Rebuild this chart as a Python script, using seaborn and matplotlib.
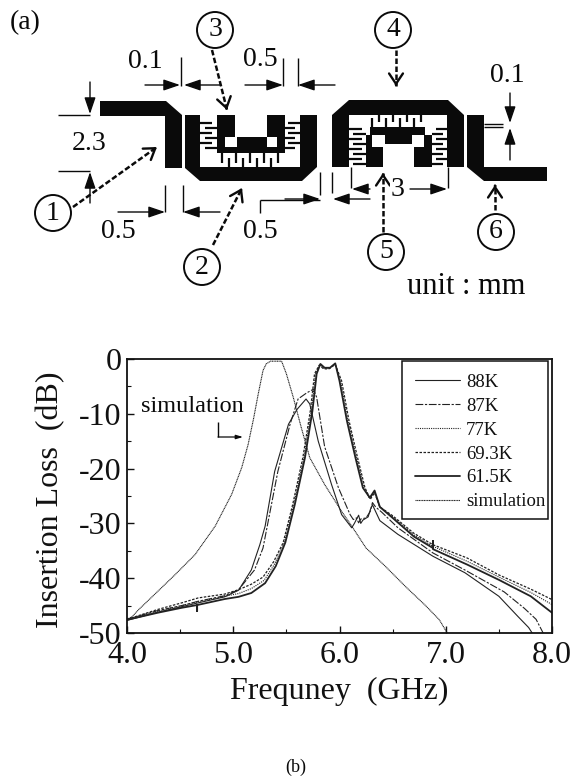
import matplotlib
matplotlib.use("Agg")
import matplotlib.pyplot as plt
import seaborn as sns
from matplotlib.patches import Circle, Polygon, Rectangle

# -------------------------
# 1. Curves
# -------------------------
x_615 = [4.0, 4.29, 4.515, 4.66, 4.66, 4.66, 4.92, 5.05, 5.17, 5.3, 5.4, 5.49, 5.58, 5.675, 5.745, 5.785, 5.82, 5.86, 5.91, 5.96,
         6.0, 6.07, 6.15, 6.22, 6.285, 6.33, 6.38, 6.5, 6.7, 6.88, 6.88, 6.88, 7.2, 7.5, 7.8, 8.0]
y_615 = [-47.6, -46.3, -45.4, -44.9, -46, -44.9, -43.8, -43.4, -42.7, -40.9, -37.8, -33.5, -26.5, -18, -9.5, -2.7, -0.9, -1.6, -1.6, -0.8,
         -4, -11.3, -18, -23.5, -25.3, -24, -27, -29, -32.4, -34.5, -33.2, -34.7, -37.5, -40.3, -43.3, -46.3]

x_693 = [4.0, 4.29, 4.515, 4.67, 4.92, 5.05, 5.17, 5.28, 5.38, 5.47, 5.56, 5.655, 5.725, 5.765, 5.81, 5.85, 5.9, 5.96,
         6.02, 6.09, 6.17, 6.24, 6.29, 6.33, 6.38, 6.5, 6.7, 6.88, 7.2, 7.5, 7.8, 8.0]
y_693 = [-47.5, -45.7, -44.5, -43.6, -42.9, -42.1, -41.1, -39.8, -37, -33.5, -26.5, -18, -9.5, -2.7, -1.1, -1.8, -1.8, -1.0,
         -4, -11.3, -18, -23.5, -25.6, -24.4, -27, -28.6, -31.8, -33.9, -36.3, -39.4, -42, -43.9]

x_77 = [4.0, 4.29, 4.515, 4.67, 4.92, 5.05, 5.17, 5.29, 5.39, 5.48, 5.57, 5.665, 5.735, 5.775, 5.815, 5.855, 5.905, 5.96,
        6.01, 6.08, 6.16, 6.23, 6.285, 6.33, 6.38, 6.5, 6.7, 6.88, 7.2, 7.5, 7.8, 8.0]
y_77 = [-47.6, -46, -45, -44.3, -43.3, -42.8, -41.9, -40.4, -37.4, -33.5, -26.5, -18, -9.5, -2.7, -1, -1.7, -1.7, -0.9,
        -4, -11.3, -18, -23.5, -25.5, -24.2, -27, -28.8, -32.1, -34.2, -36.9, -39.8, -42.6, -44.8]

x_87 = [4.0, 4.29, 4.515, 4.67, 4.92, 5.05, 5.2, 5.28, 5.42, 5.535, 5.61, 5.69, 5.755, 5.785, 5.86, 5.99, 6.1, 6.13, 6.16, 6.18,
        6.2, 6.25, 6.29, 6.31, 6.34, 6.4, 6.55, 6.88, 7.18, 7.55, 7.74, 7.85, 7.93]
y_87 = [-47.5, -45.9, -45, -44.2, -43.2, -42.1, -38.5, -34.5, -20.5, -11.9, -7.3, -6.2, -5.5, -7, -16, -23.5, -28.4, -29.3, -29, -29.9,
        -29.2, -29, -27.8, -26.2, -27, -28, -30.8, -35.4, -38.5, -42.5, -45.5, -47.5, -50.5]

x_88 = [4.0, 4.29, 4.515, 4.67, 4.92, 5.05, 5.17, 5.25, 5.3, 5.39, 5.52, 5.6, 5.685, 5.72, 5.8, 5.925, 6.02, 6.115, 6.14, 6.18, 6.2, 6.22,
        6.27, 6.29, 6.31, 6.38, 6.55, 6.88, 7.18, 7.5, 7.68, 7.78, 7.83]
y_88 = [-47.7, -46.2, -45.2, -44.5, -43.4, -42.2, -38.5, -33.9, -30.5, -20.5, -11.9, -9.2, -7.3, -8.2, -15, -22.9, -28.4, -30.8, -30, -28.5, -30, -29.4,
        -28.8, -27.5, -26.6, -29.5, -32, -36, -39, -43.3, -47, -49, -50.5]

x_sim = [4.0, 4.05, 4.106, 4.295, 4.45, 4.64, 4.83, 4.985, 5.08, 5.14, 5.19, 5.235, 5.28, 5.31, 5.35, 5.455, 5.5, 5.565, 5.64, 5.72, 5.86,
         6.02, 6.115, 6.25, 6.43, 6.62, 6.81, 6.94, 7.02]
y_sim = [-47.5, -47, -45.8, -42.3, -39.4, -35.7, -30.5, -24.7, -19.8, -15.6, -11, -6.4, -2.1, -0.9, -0.4, -0.4, -2.7, -7, -12.5, -18, -22.9,
         -27.8, -30.5, -34.5, -37.8, -41.5, -45, -47.6, -50.2]

x_ticks = [4.0, 5.0, 6.0, 7.0, 8.0]
x_tick_labels = ["4.0", "5.0", "6.0", "7.0", "8.0"]
y_ticks = [0, -10, -20, -30, -40, -50]
series = [
    ("88K", x_88, y_88, "-", 0.8),
    ("87K", x_87, y_87, (0, (7, 1.5, 2, 1.5)), 0.8),
    ("77K", x_77, y_77, (0, (1, 1)), 0.8),
    ("69.3K", x_693, y_693, (0, (2, 1.2)), 0.9),
    ("61.5K", x_615, y_615, "-", 1.3),
    ("simulation", x_sim, y_sim, (0, (1, 0.5)), 0.8),
]

# -------------------------
# 2. Page and style
# -------------------------
sns.set_style("ticks")
plt.rcParams["font.family"] = ["Liberation Serif", "DejaVu Serif"]
plt.rcParams["axes.unicode_minus"] = False

W, H = 574, 782
fig = plt.figure(figsize=(W / 100, H / 100), dpi=100)

# -------------------------
# 3. Panel (b) insertion loss
# -------------------------
ax = fig.add_axes([127 / W, 1 - 633 / H, 425 / W, 274 / H])
for label, xs, ys, ls, lw in series:
    sns.lineplot(x=xs, y=ys, ax=ax, sort=False, estimator=None, color="#222222",
                 linestyle=ls, linewidth=lw, label=label)

ax.set_xlim(4, 8)
ax.set_ylim(-50, 0)
ax.set_xticks(x_ticks, x_tick_labels)
ax.set_yticks(y_ticks)
ax.set_xticks([4.5, 5.5, 6.5, 7.5], minor=True)
ax.set_yticks([-5, -15, -25, -35, -45], minor=True)
ax.tick_params(axis="x", which="major", direction="in", length=5, width=1, labelsize=23, pad=6, color="#111111", labelcolor="#111111")
ax.tick_params(axis="y", which="major", direction="in", length=5, width=1, labelsize=23, pad=4, color="#111111", labelcolor="#111111")
ax.tick_params(which="minor", direction="in", length=3, width=0.8, color="#111111")
for spine in ax.spines.values():
    spine.set_visible(True)
    spine.set_linewidth(1.3)
    spine.set_color("#111111")
ax.set_xlabel("Frequney  (GHz)", fontsize=23, labelpad=5, color="#111111")
ax.set_ylabel("Insertion Loss  (dB)", fontsize=23, color="#111111")
ax.yaxis.set_label_coords(-0.146, 0.485)

# legend frame is its own box, the real one sits off-centre inside it
ax.add_patch(Rectangle((6.59, -29.2), 1.375, 28.9, facecolor="white", edgecolor="#111111", lw=1.1, zorder=4))
leg = ax.legend(loc="upper left", bbox_to_anchor=(6.71, -2.7), bbox_transform=ax.transData, borderaxespad=0,
                borderpad=0, fontsize=13.5, frameon=False, handlelength=2.4, handletextpad=0.32, labelspacing=0.36)
leg.set_zorder(5)
for t in leg.get_texts():
    t.set_color("#111111")

# -------------------------
# 4. Panel (a) layout, drawn in page pixels
# -------------------------
dg = fig.add_axes([0, 0, 1, 1], zorder=5)
dg.set_xlim(0, W)
dg.set_ylim(H, 0)
dg.axis("off")
dg.patch.set_alpha(0)

INK = "#0a0a0a"

shapes = [
    [(100, 101), (166, 101), (182, 115), (182, 168), (165, 168), (165, 116), (100, 116)],
    [(185, 115), (200, 115), (200, 167), (300, 167), (300, 115), (317, 115), (317, 167), (302, 181), (200, 181), (185, 168)],
    [(332, 115), (349, 100), (448, 100), (464, 115), (464, 167), (447, 167), (447, 115), (349, 115), (349, 167), (332, 167)],
    [(467, 115), (484, 115), (484, 167), (547, 167), (547, 181), (484, 181), (467, 167)],
    # inner patches
    [(217, 115), (235, 115), (235, 137), (225, 137), (225, 147), (237, 147), (237, 137), (267, 137), (267, 147), (277, 147),
     (277, 137), (267, 137), (267, 115), (285, 115), (285, 153), (217, 153)],
    [(366, 167), (383, 167), (383, 147), (372, 147), (372, 135), (385, 135), (385, 144), (412, 144), (412, 135), (424, 135),
     (424, 147), (414, 147), (414, 167), (432, 167), (432, 135), (425, 135), (425, 127), (370, 127), (370, 135), (366, 135)],
]
for pts in shapes:
    dg.add_patch(Polygon(pts, closed=True, facecolor=INK, edgecolor="none"))


def hfingers(x_a, x_a_end, x_b, x_b_end, ys):
    # interdigital fingers coming alternately from the two sides
    for i, y in enumerate(ys):
        if i % 2 == 0:
            dg.plot([x_a, x_a_end], [y, y], color=INK, lw=1.6, solid_capstyle="butt")
        else:
            dg.plot([x_b, x_b_end], [y, y], color=INK, lw=1.6, solid_capstyle="butt")


def vfingers(xs, y_a, y_a_end, y_b, y_b_end):
    for i, x in enumerate(xs):
        if i % 2 == 0:
            dg.plot([x, x], [y_a, y_a_end], color=INK, lw=1.6, solid_capstyle="butt")
        else:
            dg.plot([x, x], [y_b, y_b_end], color=INK, lw=1.6, solid_capstyle="butt")


hfingers(200, 212, 217, 205, [123, 128, 133, 138, 143, 148])
hfingers(300, 288, 285, 295, [123, 128, 133, 138, 143, 148])
vfingers([222, 229, 236, 243, 250, 257, 264, 271, 278], 153, 163, 167, 158)
hfingers(349, 362, 366, 353, [129, 134, 139, 144, 149, 154, 159, 164])
hfingers(447, 436, 432, 443, [129, 134, 139, 144, 149, 154, 159, 164])
vfingers([372, 379, 386, 393, 400, 407, 414, 421], 127, 118, 115, 122)


def dim_arrow(x0, y0, x1, y1):
    # filled arrow used for dimensions
    dg.annotate("", xy=(x1, y1), xytext=(x0, y0),
                arrowprops=dict(arrowstyle="-|>,head_length=1.0,head_width=0.34", color=INK, lw=1, shrinkA=0, shrinkB=0))


def dash_arrow(x0, y0, x1, y1):
    # dashed pointer with an open head
    dg.plot([x0, x1], [y0, y1], color=INK, lw=1.8, linestyle=(0, (2.2, 1)))
    ux, uy = (x1 - x0) * 0.04, (y1 - y0) * 0.04
    dg.annotate("", xy=(x1, y1), xytext=(x1 - ux, y1 - uy),
                arrowprops=dict(arrowstyle="->,head_length=0.75,head_width=0.5", color=INK, lw=1.7, shrinkA=0, shrinkB=0))


def rule(x0, y0, x1, y1, lw=1.0):
    dg.plot([x0, x1], [y0, y1], color=INK, lw=lw, solid_capstyle="butt")


# dimension lines
for a in [(145, 85, 180, 85), (220, 85, 184, 85), (245, 85, 283, 85), (335, 85, 298, 85),
          (90, 82, 90, 114), (90, 203, 90, 172), (118, 212, 165, 212), (220, 212, 183, 212),
          (285, 199, 320, 199), (370, 199, 333, 199), (370, 189, 352, 189), (410, 189, 447, 189),
          (510, 93, 510, 123), (510, 160, 510, 128)]:
    dim_arrow(*a)
for r in [(181, 57, 181, 86), (283, 58, 283, 86), (298, 58, 298, 86), (58, 115, 90, 115), (58, 171, 90, 171),
          (165, 185, 165, 212), (183, 185, 183, 212), (260, 200, 320, 200), (260, 200, 260, 213), (320, 172, 320, 195),
          (332, 172, 332, 193), (351, 167, 351, 188), (448, 167, 448, 188), (484, 124, 503, 124), (484, 127, 503, 127)]:
    rule(*r)

# numbered pointers
for p in [(73, 207, 157, 147), (213, 245, 242, 188), (212, 50, 227, 110),
          (396, 50, 396, 86), (383, 232, 383, 173), (495, 210, 495, 185)]:
    dash_arrow(*p)

circle_centres = [(53, 213), (202, 267), (215, 30), (393, 30), (386, 252), (496, 232)]
circle_labels = ["1", "2", "3", "4", "5", "6"]
for (cx, cy), txt in zip(circle_centres, circle_labels):
    dg.add_patch(Circle((cx, cy), 18, facecolor="white", edgecolor=INK, lw=1.4, zorder=4))
    dg.text(cx, cy, txt, fontsize=20, ha="center", va="center", color=INK, zorder=5)

dim_text = [(145, 62, "0.1"), (260, 60, "0.5"), (89, 144, "2.3"), (118, 232, "0.5"), (260, 231, "0.5"),
            (398, 190, "3"), (507, 75, "0.1")]
for tx, ty, txt in dim_text:
    dg.text(tx, ty, txt, fontsize=20, ha="center", va="center", color=INK,
            bbox=dict(facecolor="white", edgecolor="none", pad=0.5) if txt == "3" else None)

dg.text(466, 287, "unit : mm", fontsize=22, ha="center", va="center", color=INK)
dg.text(25, 23, "(a)", fontsize=20, ha="center", va="center", color=INK)
dg.text(296, 767, "(b)", fontsize=13, ha="center", va="center", color=INK)

# simulation callout inside panel (b)
dg.text(192, 406, "simulation", fontsize=17.5, ha="center", va="center", color=INK)
rule(218, 422, 218, 437)
dg.annotate("", xy=(243, 437), xytext=(218, 437),
            arrowprops=dict(arrowstyle="-|>,head_length=0.4,head_width=0.12", color=INK, lw=0.9, shrinkA=0, shrinkB=0))

fig.savefig("out.png", dpi=100)
